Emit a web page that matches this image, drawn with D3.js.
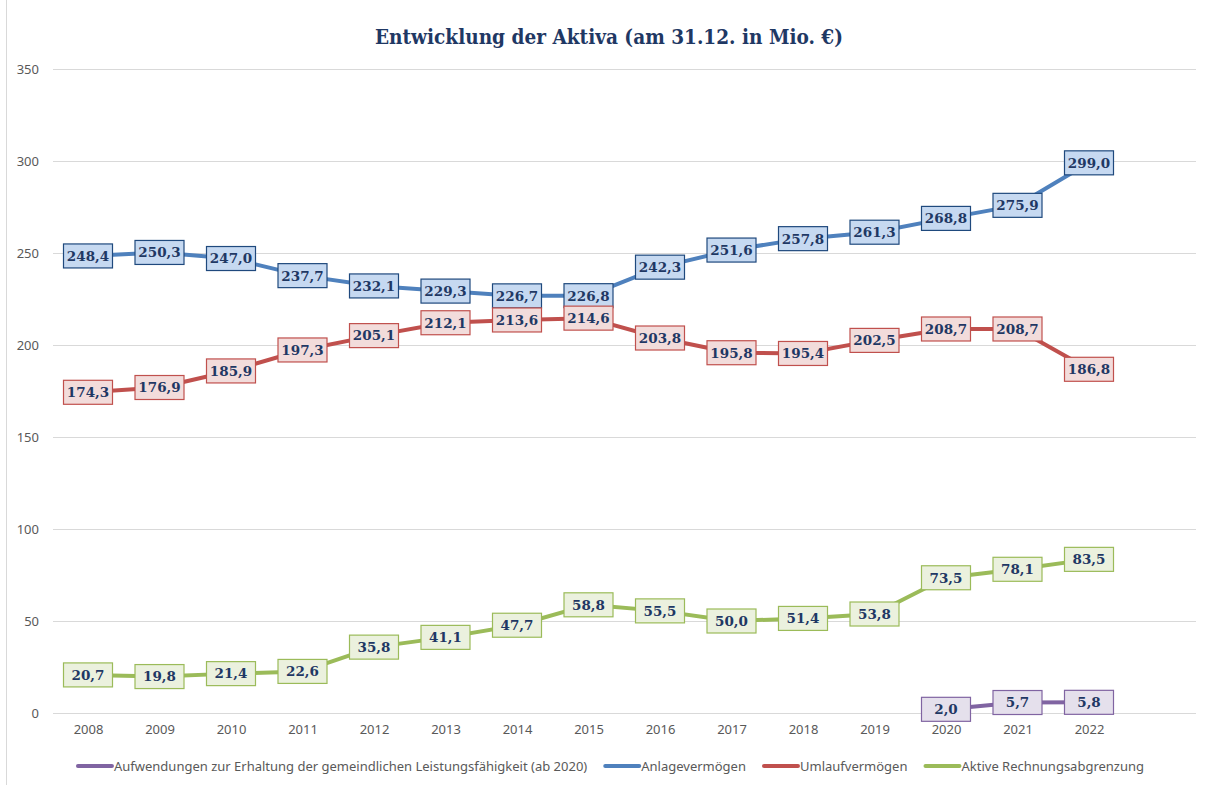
<!DOCTYPE html>
<html>
<head>
<meta charset="utf-8">
<script src="https://cdn.jsdelivr.net/npm/d3@7"></script>
<style>
  body { margin: 0; background: #fff; }
</style>
</head>
<body>
<svg id="chart" width="1210" height="785"></svg>
<script>
// data
const years = ['2008','2009','2010','2011','2012','2013','2014','2015','2016','2017','2018','2019','2020','2021','2022'];
const aufwendungen = [null,null,null,null,null,null,null,null,null,null,null,null,2.0,5.7,5.8];
const anlagevermoegen = [248.4,250.3,247.0,237.7,232.1,229.3,226.7,226.8,242.3,251.6,257.8,261.3,268.8,275.9,299.0];
const umlaufvermoegen = [174.3,176.9,185.9,197.3,205.1,212.1,213.6,214.6,203.8,195.8,195.4,202.5,208.7,208.7,186.8];
const rechnungsabgrenzung = [20.7,19.8,21.4,22.6,35.8,41.1,47.7,58.8,55.5,50.0,51.4,53.8,73.5,78.1,83.5];
const yTicks = [0,50,100,150,200,250,300,350];

const series = [
  { name: 'Aufwendungen zur Erhaltung der gemeindlichen Leistungsfähigkeit (ab 2020)', values: aufwendungen,
    line: '#8064A2', fill: '#E5E0EC', border: '#8064A2' },
  { name: 'Anlagevermögen', values: anlagevermoegen,
    line: '#4F81BD', fill: '#C6D9F1', border: '#1F497D' },
  { name: 'Umlaufvermögen', values: umlaufvermoegen,
    line: '#C0504D', fill: '#F2DCDB', border: '#C0504D' },
  { name: 'Aktive Rechnungsabgrenzung', values: rechnungsabgrenzung,
    line: '#9BBB59', fill: '#EBF1DE', border: '#9BBB59' }
];

const svg = d3.select('#chart');
const width = +svg.attr('width');
const height = +svg.attr('height');

const gridLeft = 53, gridRight = 1196;
const x = d3.scalePoint().domain(years).range([88, 1089]);
const y = d3.scaleLinear().domain([0, 350]).range([713, 69]);

// frame edge on the left
svg.append('line')
  .attr('x1', 6.5).attr('x2', 6.5).attr('y1', 0).attr('y2', height)
  .attr('stroke', '#d9d9d9').attr('stroke-width', 1);

// title
svg.append('text')
  .attr('x', 609).attr('y', 44)
  .attr('text-anchor', 'middle')
  .attr('textLength', 468)
  .attr('lengthAdjust', 'spacingAndGlyphs')
  .style('font-family', 'DejaVu Serif, serif')
  .style('font-weight', 'bold')
  .style('font-size', '21px')
  .attr('fill', '#1F3864')
  .text('Entwicklung der Aktiva (am 31.12. in Mio. €)');

// gridlines + y labels
const yAxis = svg.append('g')
  .attr('transform', 'translate(' + gridLeft + ',0)')
  .call(d3.axisLeft(y).tickValues(yTicks).tickSize(-(gridRight - gridLeft)).tickPadding(14).tickFormat(d3.format('d')));
yAxis.select('.domain').remove();
yAxis.selectAll('line').attr('stroke', '#d9d9d9').attr('stroke-width', 1);
yAxis.selectAll('text')
  .style('font-family', 'Noto Sans, sans-serif').style('font-size', '13px').attr('fill', '#595959');

// x labels
const xAxis = svg.append('g')
  .attr('transform', 'translate(0,' + y(0) + ')')
  .call(d3.axisBottom(x).tickSize(0).tickPadding(12));
xAxis.select('.domain').remove();
xAxis.selectAll('text')
  .style('font-family', 'Noto Sans, sans-serif').style('font-size', '13px').attr('fill', '#595959');

// lines
const line = d3.line()
  .defined(d => d.v !== null)
  .x(d => x(d.year))
  .y(d => y(d.v));

series.forEach(s => {
  const pts = years.map((yr, i) => ({ year: yr, v: s.values[i] }));
  svg.append('path')
    .datum(pts)
    .attr('d', line)
    .attr('fill', 'none')
    .attr('stroke', s.line)
    .attr('stroke-width', 4)
    .attr('stroke-linejoin', 'round');
});

// data labels
const fmt = v => d3.format('.1f')(v).replace('.', ',');
series.forEach(s => {
  const pts = years.map((yr, i) => ({ year: yr, v: s.values[i] })).filter(d => d.v !== null);
  const lab = svg.append('g').selectAll('g')
    .data(pts)
    .enter()
    .append('g')
    .attr('transform', d => 'translate(' + x(d.year) + ',' + y(d.v) + ')');
  lab.append('rect')
    .attr('x', -24.5).attr('y', -12)
    .attr('width', 49).attr('height', 24)
    .attr('fill', s.fill)
    .attr('stroke', s.border)
    .attr('stroke-width', 1.2);
  lab.append('text')
    .attr('text-anchor', 'middle')
    .attr('dy', '0.36em')
    .style('font-family', 'DejaVu Serif, serif')
    .style('font-weight', 'bold')
    .style('font-size', '13.5px')
    .attr('fill', '#1F3864')
    .text(d => fmt(d.v));
});

// legend
const legend = svg.append('g').attr('transform', 'translate(0,766)');
let lx = 0;
const items = [];
series.forEach(s => {
  const g = legend.append('g');
  g.append('line').attr('x1', 0).attr('x2', 34).attr('y1', 0).attr('y2', 0)
    .attr('stroke', s.line).attr('stroke-width', 4).attr('stroke-linecap', 'round');
  const t = g.append('text').attr('x', 36).attr('dy', '0.35em')
    .style('font-family', 'Noto Sans, sans-serif').style('font-size', '13px').attr('fill', '#595959')
    .text(s.name);
  const w = 36 + t.node().getComputedTextLength();
  items.push({ g, w });
});
const gap = 18;
const total = d3.sum(items, d => d.w) + gap * (items.length - 1);
lx = 611 - total / 2;
items.forEach(it => {
  it.g.attr('transform', 'translate(' + lx + ',0)');
  lx += it.w + gap;
});
</script>
</body>
</html>
